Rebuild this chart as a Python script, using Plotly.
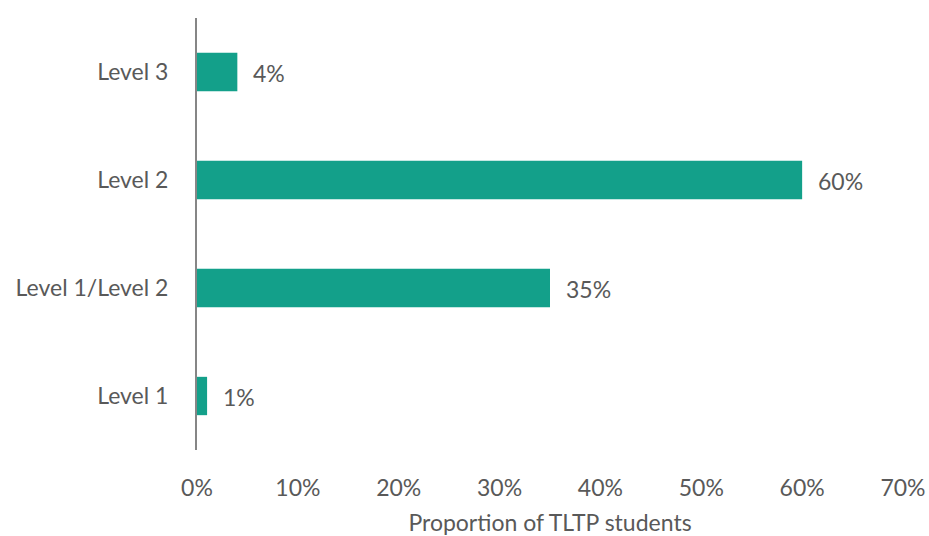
import plotly.graph_objects as go

# Proficiency levels (bottom to top) and share of TLTP students (%)
levels = ["Level 1", "Level 1/Level 2", "Level 2", "Level 3"]
shares = [1, 35, 60, 4]
x_ticks = [0, 10, 20, 30, 40, 50, 60, 70]
x_tick_labels = [f"{v}%" for v in x_ticks]

BAR_COLOR = "#13A08A"
TEXT_COLOR = "#595959"
FONT = "Lato, 'Open Sans', sans-serif"
FS = 23

fig = go.Figure(
    go.Bar(
        x=shares,
        y=levels,
        orientation="h",
        marker=dict(color=BAR_COLOR, line=dict(width=0)),
        width=0.355,
        hoverinfo="x+y",
    )
)

# value labels to the right of each bar
for lvl, v in zip(levels, shares):
    fig.add_annotation(
        x=v, y=lvl, text=f"{v}%", showarrow=False,
        xanchor="left", yanchor="middle", xshift=14, yshift=-1,
        font=dict(family=FONT, size=FS, color=TEXT_COLOR),
    )

fig.update_layout(
    width=929, height=536,
    margin=dict(l=197, r=26, t=18, b=86),
    paper_bgcolor="white", plot_bgcolor="white",
    showlegend=False,
    font=dict(family=FONT, size=FS, color=TEXT_COLOR),
)

fig.update_xaxes(
    range=[0, 70], automargin=False,
    tickmode="array", tickvals=x_ticks, ticktext=x_tick_labels,
    showgrid=False, zeroline=False, showline=False, ticks="",
    ticklabelstandoff=22,
    title=dict(text="Proportion of TLTP students", standoff=18,
               font=dict(family=FONT, size=FS, color=TEXT_COLOR)),
    fixedrange=True,
)
fig.update_yaxes(
    categoryorder="array", categoryarray=levels, automargin=False,
    showgrid=False, zeroline=False,
    showline=True, linecolor="#868686", linewidth=2,
    ticks="", ticklabelstandoff=22,
    fixedrange=True,
)

fig.write_html("out.html")
